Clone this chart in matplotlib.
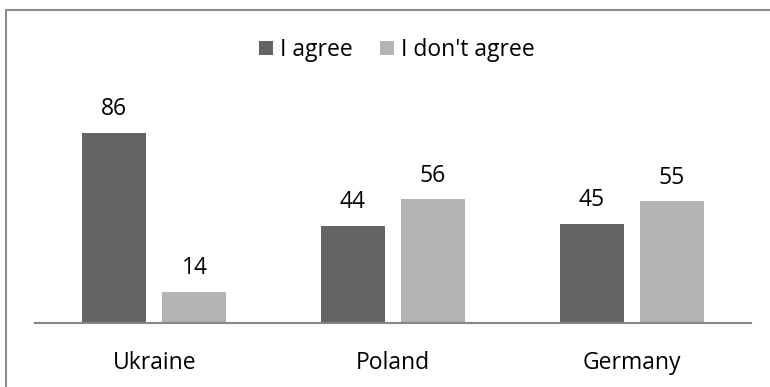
import matplotlib.pyplot as plt
import numpy as np
from matplotlib.lines import Line2D

plt.rcParams['font.family'] = ['Open Sans', 'DejaVu Sans']

countries = ['Ukraine', 'Poland', 'Germany']
agree = [86, 44, 45]
disagree = [14, 56, 55]
series_names = ['I agree', "I don't agree"]

dark = '#646464'
light = '#b3b3b3'
fs = 16.5

fig = plt.figure(figsize=(7.7, 3.87), dpi=100)
ax = fig.add_axes([35 / 770, 1 - 323 / 387, 716 / 770, 221 / 387])

x = np.arange(len(countries))
w = 0.268
off = 0.168
b1 = ax.bar(x - off, agree, w, color=dark, label=series_names[0])
b2 = ax.bar(x + off, disagree, w, color=light, label=series_names[1])

for bars, vals in [(b1, agree), (b2, disagree)]:
    for rect, v in zip(bars, vals):
        ax.text(rect.get_x() + rect.get_width() / 2, v + 8, str(v),
                ha='center', va='baseline', fontsize=fs)

ax.set_xlim(-0.5, 2.5)
ax.set_ylim(0, 100)
ax.set_xticks(x)
ax.set_xticklabels(countries, fontsize=fs)
ax.tick_params(axis='x', length=0, pad=20)
ax.set_yticks([])
for s in ['top', 'right', 'left']:
    ax.spines[s].set_visible(False)
ax.spines['bottom'].set_color('#868686')
ax.spines['bottom'].set_linewidth(1.5)

fig.legend(loc='center', bbox_to_anchor=(397 / 770, 1 - 50 / 387),
           ncol=2, frameon=False, fontsize=fs, handlelength=0.6,
           handleheight=0.6, handletextpad=0.3, columnspacing=1.2)

# outer chart frame (top and left edges visible)
fig.add_artist(Line2D([6 / 770, 6 / 770], [0, 1 - 9.5 / 387], transform=fig.transFigure,
                      color='#8c8c8c', lw=1.5))
fig.add_artist(Line2D([6 / 770, 1], [1 - 9.5 / 387, 1 - 9.5 / 387], transform=fig.transFigure,
                      color='#8c8c8c', lw=1.5))

fig.savefig('out.png', dpi=100)
